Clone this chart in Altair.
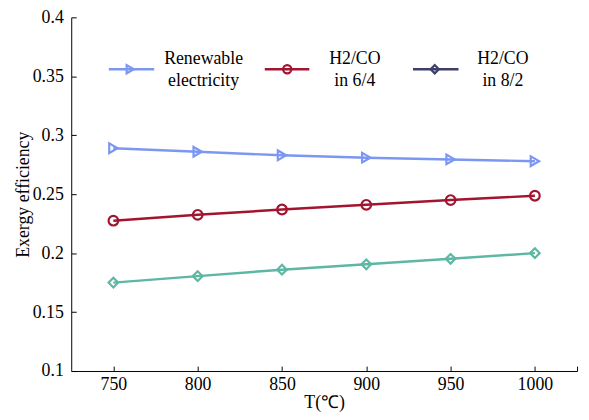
import altair as alt
import pandas as pd

temps = [750, 800, 850, 900, 950, 1000]
x_tick_values = [750, 800, 850, 900, 950, 1000, 1025]
y_tick_values = [0.1, 0.15, 0.2, 0.25, 0.3, 0.35, 0.4]
renewable = [0.289, 0.286, 0.283, 0.281, 0.2795, 0.278]
h2co_64 = [0.2275, 0.2325, 0.237, 0.241, 0.245, 0.2487]
h2co_82 = [0.175, 0.1805, 0.186, 0.1905, 0.1952, 0.2]

series_names = ["Renewable electricity", "H2/CO in 6/4", "H2/CO in 8/2"]
line_colors = ["#7b97f2", "#a2142f", "#5db7a4"]
legend_colors = ["#7b97f2", "#a2142f", "#3e3f68"]
shapes = ["triangle-right", "circle", "diamond"]

# legend layout (data units)
leg_x1 = [747.3, 839.8, 927.7]
leg_x2 = [774.2, 866.2, 954.7]
leg_xm = [760.0, 853.1, 940.6]
leg_xt = [803.5, 893.2, 981.0]
leg_y = 0.356
leg_labels = [["Renewable", "electricity"], ["H2/CO", "in 6/4"], ["H2/CO", "in 8/2"]]

rows = []
for name, vals, col, shp in zip(series_names, [renewable, h2co_64, h2co_82], line_colors, shapes):
    for t, v in zip(temps, vals):
        rows.append({"T": t, "E": v, "series": name, "col": col, "shape": shp})
df = pd.DataFrame(rows)

leg = pd.DataFrame({
    "x1": leg_x1, "x2": leg_x2, "xm": leg_xm, "xt": leg_xt,
    "y": [leg_y] * 3, "col": legend_colors, "shape": shapes,
    "label": leg_labels,
})

font = "Liberation Serif, Times New Roman, serif"
xs = alt.Scale(domain=[725, 1025], nice=False, zero=False)
ys = alt.Scale(domain=[0.1, 0.4], nice=False, zero=False)

x = alt.X("T:Q", scale=xs, title="T(℃)",
          axis=alt.Axis(values=x_tick_values, format="d",
                        labelExpr="datum.value > 1010 ? '' : datum.label",
                        grid=False, domainColor="black", domainWidth=1,
                        tickColor="black", ticks=True, tickSize={"expr": "-5"}, labelPadding=10,
                        labelFont=font, labelFontSize=18, labelColor="black",
                        titleFont=font, titleFontSize=18, titleFontWeight="normal",
                        titleColor="black", titlePadding=0))
y = alt.Y("E:Q", scale=ys, title="Exergy efficiency",
          axis=alt.Axis(values=y_tick_values, format=".2~f",
                        grid=False, domainColor="black", tickColor="black",
                        tickSize={"expr": "-5"}, labelPadding=13, labelFont=font, labelFontSize=18,
                        labelColor="black", titleFont=font, titleFontSize=18,
                        titleFontWeight="normal", titleColor="black", titlePadding=0))

base = alt.Chart(df)
lines = base.mark_line(strokeWidth=2.5).encode(
    x=x, y=y, detail="series:N", color=alt.Color("col:N", scale=None))
points = base.mark_point(filled=False, strokeWidth=2.2, size=95, opacity=1).encode(
    x="T:Q", y="E:Q", color=alt.Color("col:N", scale=None),
    shape=alt.Shape("shape:N", scale=None))

lb = alt.Chart(leg)
leg_lines = lb.mark_rule(strokeWidth=2.5).encode(
    x=alt.X("x1:Q", scale=xs), x2="x2:Q", y=alt.Y("y:Q", scale=ys),
    color=alt.Color("col:N", scale=None))
leg_pts = lb.mark_point(filled=False, strokeWidth=2.2, size=70, opacity=1).encode(
    x=alt.X("xm:Q", scale=xs), y=alt.Y("y:Q", scale=ys),
    color=alt.Color("col:N", scale=None), shape=alt.Shape("shape:N", scale=None))
leg_txt = lb.mark_text(font=font, fontSize=18, color="black", align="center",
                       baseline="middle", lineHeight=21.5, dy=-10).encode(
    x=alt.X("xt:Q", scale=xs), y=alt.Y("y:Q", scale=ys), text="label")

chart = alt.layer(lines, points, leg_lines, leg_pts, leg_txt).properties(
    width=512, height=358,
    autosize=alt.AutoSizeParams(type="none"),
    padding={"left": 64, "top": 7, "right": 4, "bottom": 39},
).configure(background="white").configure_view(stroke=None)

chart.save("out.html", embed_options={"renderer": "svg", "actions": False})
